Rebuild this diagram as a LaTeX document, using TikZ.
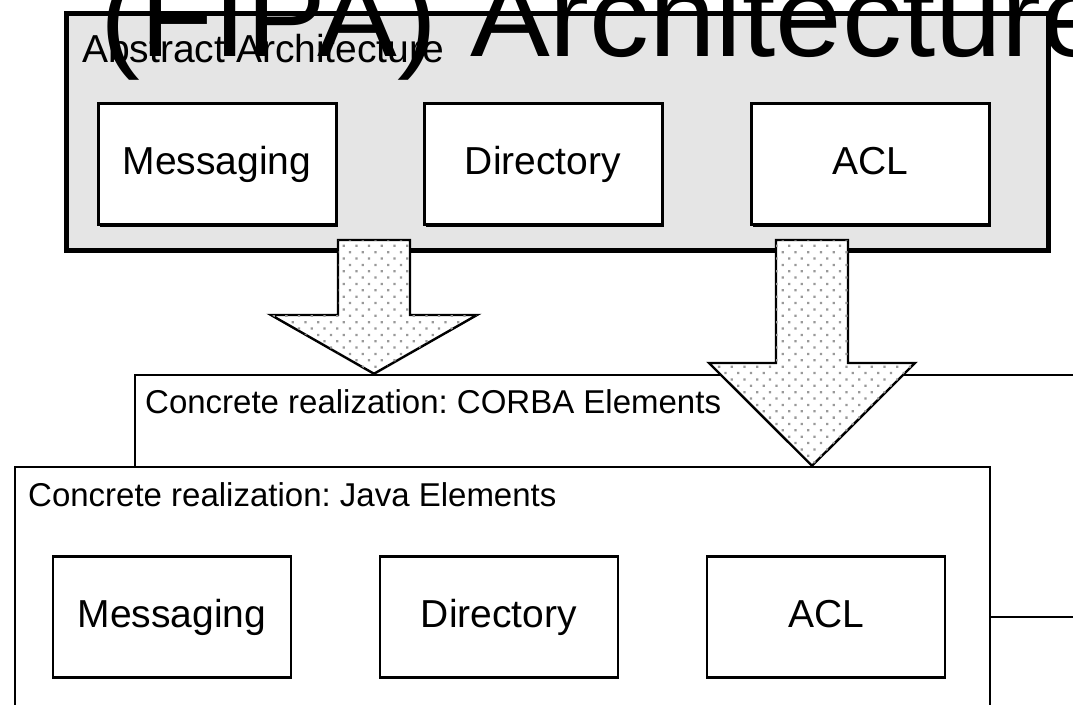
\documentclass[tikz,border=0pt]{standalone}
\usepackage{fontspec}
\setmainfont{Liberation Sans}
\usetikzlibrary{
  patterns.meta,
  shadows
}
\frenchspacing

\tikzset{
  box/.style={draw, fill=white, line width=2.6pt, inner sep=0pt,
    minimum width=238pt, minimum height=121pt,
    text height=28pt, text depth=8pt,
    font=\fontsize{39}{40}\selectfont},
  shadebox/.style={box, line width=3pt,
    drop shadow={shadow xshift=2pt, shadow yshift=-2pt, fill=black, opacity=1}},
  frame/.style={draw, fill=white, line width=2.5pt, inner sep=0pt},
  caption/.style={anchor=base west, inner sep=0pt, font=\fontsize{33}{34}\selectfont},
  fatarrow/.style={draw, line width=2.4pt, line join=miter, fill=white,
    postaction={pattern={Dots[distance=9pt, angle=45, radius=1.6pt]}, pattern color=black!40}}
}

\begin{document}
\begin{tikzpicture}[x=1pt, y=-1pt]
  \def\Ytop{164}
  \def\Ybot{617}
  \def\Xl{374}
  \def\Xr{812}
  \def\Hs{36}
  \def\Hh{103}
  \useasboundingbox (0,0) rectangle (1073,704);
  \clip (0,0) rectangle (1073,704);

        % abstract layer
        \node[frame, fill=black!10, line width=5pt, minimum width=982pt, minimum height=237pt,
          drop shadow={shadow xshift=1.5pt, shadow yshift=-1.5pt, fill=black, opacity=1}]
          (abstract) at (557,131.5) {};
        \node[caption, font=\fontsize{39}{40}\selectfont] (abstractlbl) at (82,62) {Abstract Architecture};
        \node[shadebox] (msgA) at (217,\Ytop) {Messaging};
        \node[shadebox] (dirA) at (543,\Ytop) {Directory};
        \node[shadebox] (aclA) at (870,\Ytop) {ACL};

        % concrete layers
        \node[frame, minimum width=985pt, minimum height=365pt] (corba) at (627.5,557.5) {};
        \node[caption] (corbalbl) at (145,413) {Concrete realization: CORBA Elements};

        \node[frame, minimum width=975pt, minimum height=293pt] (java) at (502.5,613.5) {};
        \node[caption] (javalbl) at (28,506) {Concrete realization: Java Elements};
        \node[box] (msgJ) at (172,\Ybot) {Messaging};
        \node[box] (dirJ) at (499,\Ybot) {Directory};
        \node[box] (aclJ) at (826,\Ybot) {ACL};

        \coordinate (edge) at (1073,\Ybot);
        \draw[line width=2.5pt] (java.east |- aclJ) -- (edge);

        % realization arrows
        \draw[fatarrow] (\Xl - \Hs, 240) -- (\Xl - \Hs, 315) -- (\Xl - \Hh, 315)
          -- (corba.north -| \Xl, 0) -- (\Xl + \Hh, 315) -- (\Xl + \Hs, 315)
          -- (\Xl + \Hs, 240) -- cycle;
        \draw[fatarrow] (\Xr - \Hs, 240) -- (\Xr - \Hs, 363) -- (\Xr - \Hh, 363)
          -- (java.north -| \Xr, 0) -- (\Xr + \Hh, 363) -- (\Xr + \Hs, 363)
          -- (\Xr + \Hs, 240) -- cycle;

        % heading
        \node[anchor=base west, inner sep=0pt, xscale=1.04, font=\fontsize{115}{120}\selectfont]
          (title) at (100,56) {(FIPA) Architecture};

\end{tikzpicture}
\end{document}
